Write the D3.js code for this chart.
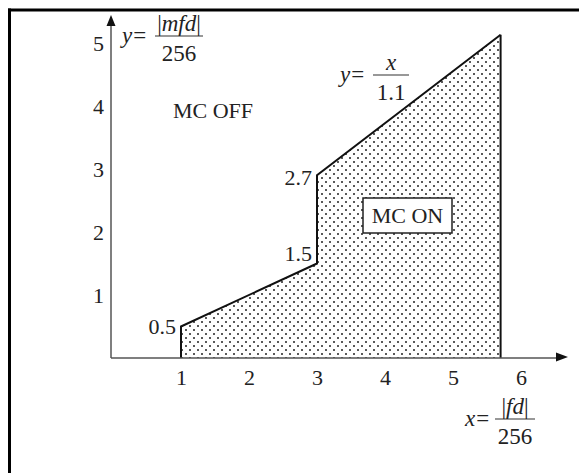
<!DOCTYPE html>
<html><head><meta charset="utf-8">
<script src="https://cdn.jsdelivr.net/npm/d3@7"></script>
<style>
html,body{margin:0;padding:0;background:#fff;}
text{font-family:"Liberation Serif","Times New Roman",serif;fill:#222;}
</style></head>
<body>
<script>
// ---- data ----
const xTicks = [1, 2, 3, 4, 5, 6];
const yTicks = [1, 2, 3, 4, 5];
// boundary of the "MC ON" region (x, y)
const regionX = [1, 1, 3, 3, 5.7, 5.7];
const regionY = [0, 0.5, 1.5, 2.9, 5.13, 0];
// labelled break points
const pointLabels = ["0.5", "1.5", "2.7"];
const pointLabelX = [1, 3, 3];
const pointLabelY = [0.5, 1.65, 2.85];
const regionLabels = ["MC OFF", "MC ON"];

const W = 579, H = 473, FS = 22;
const svg = d3.select("body").append("svg").attr("width", W).attr("height", H);

const x = d3.scaleLinear().domain([0, 6]).range([113, 521]);
const y = d3.scaleLinear().domain([0, 5]).range([358, 43]);

// pattern
const defs = svg.append("defs");
const pat = defs.append("pattern").attr("id", "dots").attr("patternUnits", "userSpaceOnUse")
  .attr("width", 8).attr("height", 8);
pat.append("rect").attr("width", 8).attr("height", 8).attr("fill", "#fff");
pat.append("circle").attr("cx", 2).attr("cy", 2).attr("r", 1.0).attr("fill", "#222");
pat.append("circle").attr("cx", 6).attr("cy", 6).attr("r", 1.0).attr("fill", "#222");

// frame (top and left)
svg.append("line").attr("x1", 8).attr("x2", W).attr("y1", 10).attr("y2", 10).attr("stroke", "#000").attr("stroke-width", 3);
svg.append("line").attr("x1", 9.5).attr("x2", 9.5).attr("y1", 8.5).attr("y2", H).attr("stroke", "#000").attr("stroke-width", 3);

// region
const pts = regionX.map((d, i) => [x(d), y(regionY[i])]);
svg.append("path").attr("d", d3.line()(pts) + "Z")
  .attr("fill", "url(#dots)").attr("stroke", "none");
svg.append("path").attr("d", d3.line()(pts.slice(0, 5)))
  .attr("fill", "none").attr("stroke", "#111").attr("stroke-width", 2);
svg.append("line").attr("x1", x(5.7)).attr("x2", x(5.7)).attr("y1", y(5.13)).attr("y2", y(0))
  .attr("stroke", "#111").attr("stroke-width", 2);

// axes lines with arrows
const axisCol = "#555";
svg.append("line").attr("x1", x(0)-2).attr("x2", 560).attr("y1", y(0)).attr("y2", y(0)).attr("stroke", axisCol).attr("stroke-width", 1.5);
svg.append("line").attr("x1", 111).attr("x2", 111).attr("y1", y(0)).attr("y2", 24).attr("stroke", axisCol).attr("stroke-width", 1.5);
svg.append("path").attr("d", "M111,15 L106.5,26 L115.5,26 Z").attr("fill", "#111");
svg.append("path").attr("d", "M568,357 L556,352.5 L556,361.5 Z").attr("fill", "#111");

// tick labels using d3 axes
const gx = svg.append("g").attr("transform", `translate(0,${y(0)})`)
  .call(d3.axisBottom(x).tickValues(xTicks).tickSize(0).tickPadding(11).tickFormat(d3.format("d")));
gx.select(".domain").remove();
gx.selectAll("text").attr("font-size", FS).attr("font-family", "Liberation Serif").attr("fill", "#222");

const gy = svg.append("g").attr("transform", `translate(104,0)`)
  .call(d3.axisLeft(y).tickValues(yTicks).tickSize(0).tickPadding(0).tickFormat(d3.format("d")));
gy.select(".domain").remove();
gy.selectAll("text").attr("font-size", FS).attr("font-family", "Liberation Serif").attr("fill", "#222");

// point labels
pointLabels.forEach((t, i) => {
  svg.append("text").attr("x", x(pointLabelX[i]) - 5).attr("y", y(pointLabelY[i]) + 7)
    .attr("text-anchor", "end").attr("font-size", FS).text(t);
});

// region labels
svg.append("text").attr("x", 213).attr("y", 118).attr("text-anchor", "middle").attr("font-size", FS).text(regionLabels[0]);
svg.append("rect").attr("x", 363).attr("y", 198).attr("width", 89).attr("height", 35)
  .attr("fill", "#fff").attr("stroke", "#222").attr("stroke-width", 1.5);
svg.append("text").attr("x", 407.5).attr("y", 223).attr("text-anchor", "middle").attr("font-size", FS).text(regionLabels[1]);

// formulas
function fraction(lhs, num, den, lx, barX1, barX2, barY) {
  const g = svg.append("g");
  g.append("text").attr("x", lx).attr("y", barY + 7).attr("font-size", 23)
    .html(`<tspan font-style="italic">${lhs}</tspan><tspan dx="1">=</tspan>`);
  g.append("line").attr("x1", barX1).attr("x2", barX2).attr("y1", barY).attr("y2", barY)
    .attr("stroke", "#333").attr("stroke-width", 1.2);
  const cx = (barX1 + barX2) / 2;
  g.append("text").attr("x", cx).attr("y", barY - 5).attr("text-anchor", "middle").attr("font-size", 23)
    .html(num);
  g.append("text").attr("x", cx).attr("y", barY + 25).attr("text-anchor", "middle").attr("font-size", 23)
    .text(den);
}
fraction("y", '|<tspan font-style="italic">mfd</tspan>|', "256", 122, 155, 203, 36);
fraction("y", '<tspan font-style="italic">x</tspan>', "1.1", 340, 373, 409, 75);
fraction("x", '|<tspan font-style="italic">fd</tspan>|', "256", 465, 495, 535, 419);
</script>
</body></html>
